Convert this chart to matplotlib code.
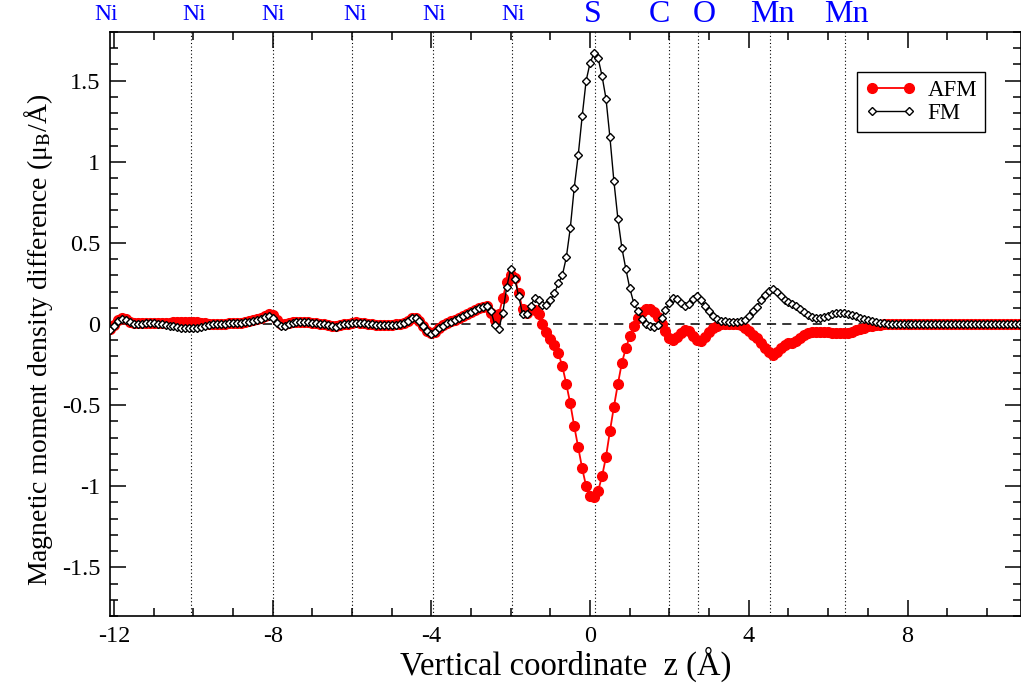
import numpy as np
import matplotlib
matplotlib.use('Agg')
from matplotlib import pyplot as plt
from matplotlib.ticker import MultipleLocator, FuncFormatter

plt.rcParams['font.family'] = ['Liberation Serif', 'DejaVu Serif']
plt.rcParams['mathtext.fontset'] = 'stix'
plt.rcParams['axes.unicode_minus'] = False

# sampling grid along z (Angstrom)
z_start = -12.1
z_step = 0.1

# magnetic moment density difference, FM configuration
fm = [-0.035,
      -0.01, 0.02, 0.03, 0.025, 0.01, 0.002, 0.0, 0.002, 0.004, 0.005,           # -12.0
      0.004, 0.002, -0.001, -0.005, -0.01, -0.015, -0.02, -0.024, -0.027, -0.027,  # -11.0
      -0.027, -0.025, -0.02, -0.013, -0.006, -0.002, 0.0, 0.002, 0.003, 0.004,    # -10.0
      0.004, 0.005, 0.007, 0.01, 0.014, 0.018, 0.024, 0.03, 0.042, 0.048,         # -9.0
      0.038, 0.005, -0.014, -0.012, 0.002, 0.008, 0.012, 0.013, 0.013, 0.011,     # -8.0
      0.008, 0.005, 0.002, -0.003, -0.008, -0.014, -0.016, -0.009, -0.003, 0.002,  # -7.0
      0.006, 0.009, 0.008, 0.004, 0.0, -0.003, -0.005, -0.006, -0.006, -0.006,    # -6.0
      -0.005, -0.004, -0.001, 0.006, 0.02, 0.034, 0.036, 0.018, -0.012, -0.045,   # -5.0
      -0.062, -0.05, -0.026, -0.01, 0.004, 0.014, 0.022, 0.034, 0.047, 0.061,     # -4.0
      0.074, 0.087, 0.098, 0.107, 0.114, 0.078, -0.005, -0.03, 0.07, 0.23,        # -3.0
      0.34, 0.28, 0.17, 0.06, 0.06, 0.11, 0.16, 0.15, 0.12, 0.12,                 # -2.0
      0.15, 0.19, 0.25, 0.30, 0.41, 0.59, 0.84, 1.04, 1.28, 1.50,                 # -1.0
      1.61, 1.67, 1.64, 1.53, 1.39, 1.15, 0.88, 0.65, 0.47, 0.34,                 # 0.0
      0.22, 0.13, 0.08, 0.03, 0.0, -0.012, -0.02, -0.005, 0.04, 0.088,            # 1.0
      0.128, 0.158, 0.152, 0.13, 0.112, 0.125, 0.155, 0.175, 0.15, 0.11,          # 2.0
      0.08, 0.052, 0.03, 0.02, 0.016, 0.015, 0.015, 0.015, 0.018, 0.025,          # 3.0
      0.05, 0.078, 0.107, 0.145, 0.18, 0.205, 0.215, 0.2, 0.175, 0.15,            # 4.0
      0.138, 0.125, 0.11, 0.095, 0.075, 0.058, 0.045, 0.038, 0.035, 0.042,        # 5.0
      0.052, 0.06, 0.065, 0.066, 0.066, 0.063, 0.058, 0.048, 0.038, 0.03,         # 6.0
      0.022, 0.017, 0.012, 0.008, 0.005, 0.003, 0.002, 0.001, 0.0, 0.0,           # 7.0
      0.0, 0.0, 0.0, 0.0, 0.0, 0.0, 0.0, 0.0, 0.0, 0.0,                           # 8.0
      0.0, 0.0, 0.0, 0.0, 0.0, 0.0, 0.0, 0.0, 0.0, 0.0,                           # 9.0
      0.0, 0.0, 0.0, 0.0, 0.0, 0.0, 0.0, 0.0, 0.0, 0.0]                           # 10.0

# magnetic moment density difference, AFM configuration
afm = [-0.03,
       -0.005, 0.025, 0.037, 0.032, 0.015, 0.006, 0.004, 0.005, 0.006, 0.007,    # -12.0
       0.007, 0.006, 0.006, 0.007, 0.008, 0.01, 0.012, 0.013, 0.013, 0.012,       # -11.0
       0.011, 0.01, 0.008, 0.005, 0.003, 0.002, 0.001, 0.002, 0.003, 0.004,      # -10.0
       0.005, 0.006, 0.009, 0.012, 0.017, 0.022, 0.03, 0.038, 0.052, 0.062,      # -9.0
       0.055, 0.022, 0.002, 0.0, 0.006, 0.01, 0.013, 0.014, 0.013, 0.011,        # -8.0
       0.008, 0.005, 0.002, -0.003, -0.008, -0.013, -0.015, -0.008, -0.002, 0.003,  # -7.0
       0.007, 0.01, 0.009, 0.005, 0.001, -0.002, -0.004, -0.005, -0.005, -0.005,  # -6.0
       -0.004, -0.003, 0.0, 0.007, 0.021, 0.035, 0.037, 0.02, -0.01, -0.042,     # -5.0
       -0.058, -0.047, -0.022, -0.006, 0.008, 0.018, 0.026, 0.037, 0.05, 0.063,  # -4.0
       0.075, 0.088, 0.098, 0.106, 0.11, 0.07, 0.025, 0.06, 0.16, 0.26,          # -3.0
       0.30, 0.285, 0.19, 0.09, 0.066, 0.09, 0.085, 0.06, 0.0, -0.05,           # -2.0
       -0.09, -0.13, -0.18, -0.26, -0.37, -0.49, -0.63, -0.76, -0.89, -1.00,     # -1.0
       -1.06, -1.065, -1.03, -0.94, -0.82, -0.66, -0.51, -0.37, -0.24, -0.15,    # 0.0
       -0.075, -0.015, 0.035, 0.076, 0.09, 0.09, 0.076, 0.045, 0.0, -0.045,      # 1.0
       -0.088, -0.099, -0.08, -0.053, -0.04, -0.045, -0.075, -0.10, -0.105, -0.08,  # 2.0
       -0.05, -0.025, -0.01, -0.003, -0.002, -0.002, -0.002, -0.003, -0.008, -0.025,  # 3.0
       -0.045, -0.065, -0.085, -0.115, -0.145, -0.175, -0.19, -0.175, -0.15, -0.13,  # 4.0
       -0.12, -0.115, -0.105, -0.088, -0.068, -0.055, -0.05, -0.047, -0.047, -0.047,  # 5.0
       -0.05, -0.053, -0.057, -0.058, -0.058, -0.055, -0.05, -0.04, -0.03, -0.022,   # 6.0
       -0.014, -0.01, -0.007, -0.004, -0.002, -0.001, 0.0, 0.0, 0.0, 0.0,        # 7.0
       0.0, 0.0, 0.0, 0.0, 0.0, 0.0, 0.0, 0.0, 0.0, 0.0,                         # 8.0
       0.0, 0.0, 0.0, 0.0, 0.0, 0.0, 0.0, 0.0, 0.0, 0.0,                         # 9.0
       0.0, 0.0, 0.0, 0.0, 0.0, 0.0, 0.0, 0.0, 0.0, 0.0]                         # 10.0

# atomic planes: dotted line position and label
plane_z = [-10.07, -8.0, -6.0, -3.97, -1.97, 0.12, 2.0, 2.71, 4.53, 6.42]
label_z = [-12.19, -9.99, -8.0, -5.92, -3.94, -1.95, 0.07, 1.76, 2.87, 4.6, 6.47]
label_txt = ['Ni', 'Ni', 'Ni', 'Ni', 'Ni', 'Ni', 'S', 'C', 'O', 'Mn', 'Mn']

z = z_start + z_step * np.arange(len(fm))

W, H = 1021, 690
fig = plt.figure(figsize=(W / 100, H / 100), dpi=100)
ax = fig.add_axes([110 / W, 74 / H, 911 / W, 584 / H])

for zp in plane_z:
    ax.axvline(zp, color='black', lw=0.8, ls=(0, (1, 2.2)), zorder=1)
ax.axhline(0, color='black', lw=1.1, ls=(0, (6, 4)), zorder=1)

ax.plot(z, afm, color='red', lw=1.3, marker='o', ms=7, mfc='red', mec='red',
        label='AFM', zorder=2)
ax.plot(z, fm, color='black', lw=1.0, marker='D', ms=4.3, mfc='white', mec='black',
        mew=1.0, label='FM', zorder=3)

ax.set_xlim(-12.1, 10.86)
ax.set_ylim(-1.8, 1.8)
ax.xaxis.set_major_locator(MultipleLocator(4))
ax.xaxis.set_minor_locator(MultipleLocator(1))
ax.yaxis.set_major_locator(MultipleLocator(0.5))
ax.yaxis.set_minor_locator(MultipleLocator(0.1))
ax.yaxis.set_major_formatter(FuncFormatter(lambda v, p: '%g' % v))
ax.xaxis.set_major_formatter(FuncFormatter(lambda v, p: '%g' % v))
ax.tick_params(which='both', direction='in', top=True, right=True, width=1.1,
               labelsize=17.5)
ax.tick_params(which='major', length=11.5, pad=7)
ax.tick_params(which='minor', length=6)
for s in ax.spines.values():
    s.set_linewidth(1.2)

ax.set_xlabel('Vertical coordinate  z (Å)', fontsize=23.5, labelpad=0)
ax.set_ylabel('Magnetic moment density difference (μ$_\\mathrm{B}$/Å)',
              fontsize=20, labelpad=5)
ax.yaxis.label.set_y(0.473)

for lz, lt in zip(label_z, label_txt):
    fs = 17 if lt == 'Ni' else 23
    ax.text(lz, 1.0 + 17 / 584, lt, color='blue', fontsize=fs, ha='center',
            va='center', transform=ax.get_xaxis_transform(), clip_on=False)

leg = ax.legend(loc='upper right', bbox_to_anchor=(0.9605, 0.9315),
                borderaxespad=0, fancybox=False, edgecolor='black', framealpha=1,
                numpoints=2, handlelength=2.2, handletextpad=0.5,
                labelspacing=0.1, borderpad=0.35, fontsize=16.5)
leg.get_frame().set_linewidth(1.0)

fig.savefig('out.png', dpi=100)
